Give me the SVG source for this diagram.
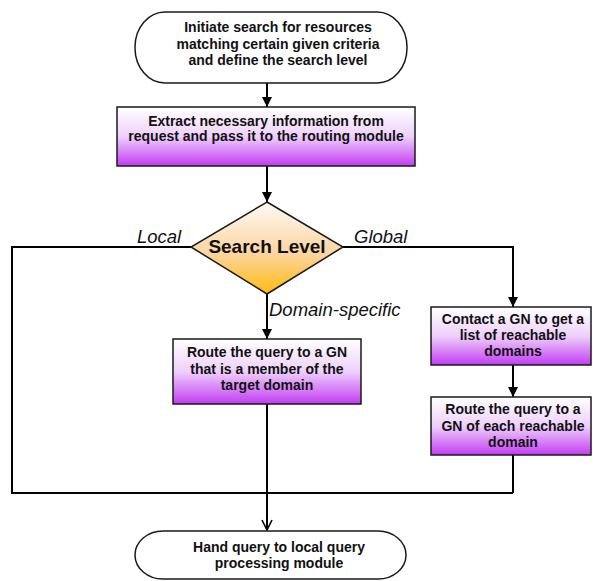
<svg xmlns="http://www.w3.org/2000/svg" width="593" height="581" viewBox="0 0 593 581">
<defs>
  <linearGradient id="purple" x1="0" y1="0" x2="0" y2="1">
    <stop offset="0" stop-color="#ffffff"/>
    <stop offset="0.5" stop-color="#eed0fb"/>
    <stop offset="1" stop-color="#c23cf2"/>
  </linearGradient>
  <linearGradient id="orange" x1="0" y1="0" x2="0" y2="1">
    <stop offset="0" stop-color="#fffaf5"/>
    <stop offset="0.55" stop-color="#fcd5a2"/>
    <stop offset="1" stop-color="#ffbb10"/>
  </linearGradient>
  <marker id="arrow" viewBox="0 0 10 10" refX="10" refY="5" markerWidth="5" markerHeight="5" markerUnits="strokeWidth" orient="auto">
    <path d="M0,0 L10,5 L0,10 Z" fill="#000"/>
  </marker>
  <marker id="openarrow" viewBox="0 0 12 12" refX="11" refY="6" markerWidth="6" markerHeight="6" markerUnits="strokeWidth" orient="auto">
    <path d="M1,1 L11,6 L1,11" fill="none" stroke="#000" stroke-width="1.6"/>
  </marker>
</defs>
<style>
  .box { fill: url(#purple); stroke: #1a1a1a; stroke-width: 1.5; }
  .term { fill: #ffffff; stroke: #1a1a1a; stroke-width: 1.5; }
  .dia { fill: url(#orange); stroke: #1a1a1a; stroke-width: 1.5; }
  .t { font-family: "Liberation Sans", Arial, sans-serif; font-weight: bold; font-size: 14px; fill: #111; text-anchor: middle; }
  .big { font-size: 19px; }
  .lbl { font-family: "Liberation Sans", Arial, sans-serif; font-style: italic; font-size: 18.5px; fill: #111; }
  .c { fill: none; stroke: #000; stroke-width: 2; }
</style>

<g id="connectors">
  <path class="c" d="M267,83 L267,107" marker-end="url(#arrow)"/>
  <path class="c" d="M267,166 L267,202" marker-end="url(#arrow)"/>
  <path class="c" d="M191,247 L12,247 L12,493 L513,493"/>
  <path class="c" d="M343,247 L513,247 L513,307" marker-end="url(#arrow)"/>
  <path class="c" d="M267,294 L267,339" marker-end="url(#arrow)"/>
  <path class="c" d="M513,365 L513,397" marker-end="url(#arrow)"/>
  <path class="c" d="M513,455 L513,493"/>
  <path class="c" d="M267,404 L267,530" marker-end="url(#openarrow)"/>
  <text class="lbl" x="137" y="243">Local</text>
  <text class="lbl" x="354" y="243">Global</text>
  <text class="lbl" x="269" y="316">Domain-specific</text>
</g>

<g id="start">
  <rect class="term" x="135" y="12" width="272" height="71" rx="30" ry="35"/>
  <text class="t" x="278" y="32">Initiate search for resources</text>
  <text class="t" x="278" y="48.5">matching certain given criteria</text>
  <text class="t" x="278" y="65">and define the search level</text>
</g>

<g id="extract">
  <rect class="box" x="117" y="107" width="298" height="59"/>
  <text class="t" x="266" y="126">Extract necessary information from</text>
  <text class="t" x="266" y="141">request and pass it to the routing module</text>
</g>

<g id="decision">
  <polygon class="dia" points="267,202 343,247 267,294 191,247"/>
  <text class="t big" x="267" y="253">Search Level</text>
</g>

<g id="route-target">
  <rect class="box" x="173" y="339" width="188" height="65"/>
  <text class="t" x="267" y="357">Route the query to a GN</text>
  <text class="t" x="267" y="373.5">that is a member of the</text>
  <text class="t" x="267" y="390">target domain</text>
</g>

<g id="contact">
  <rect class="box" x="431" y="307" width="160" height="58"/>
  <text class="t" x="513" y="324">Contact a GN to get a</text>
  <text class="t" x="513" y="340">list of reachable</text>
  <text class="t" x="513" y="356">domains</text>
</g>

<g id="route-each">
  <rect class="box" x="431" y="397" width="160" height="58"/>
  <text class="t" x="513" y="414">Route the query to a</text>
  <text class="t" x="513" y="430.5">GN of each reachable</text>
  <text class="t" x="513" y="447">domain</text>
</g>

<g id="end">
  <rect class="term" x="135" y="531" width="271" height="48" rx="28" ry="24"/>
  <text class="t" x="279" y="552">Hand query to local query</text>
  <text class="t" x="279" y="568">processing module</text>
</g>
</svg>
